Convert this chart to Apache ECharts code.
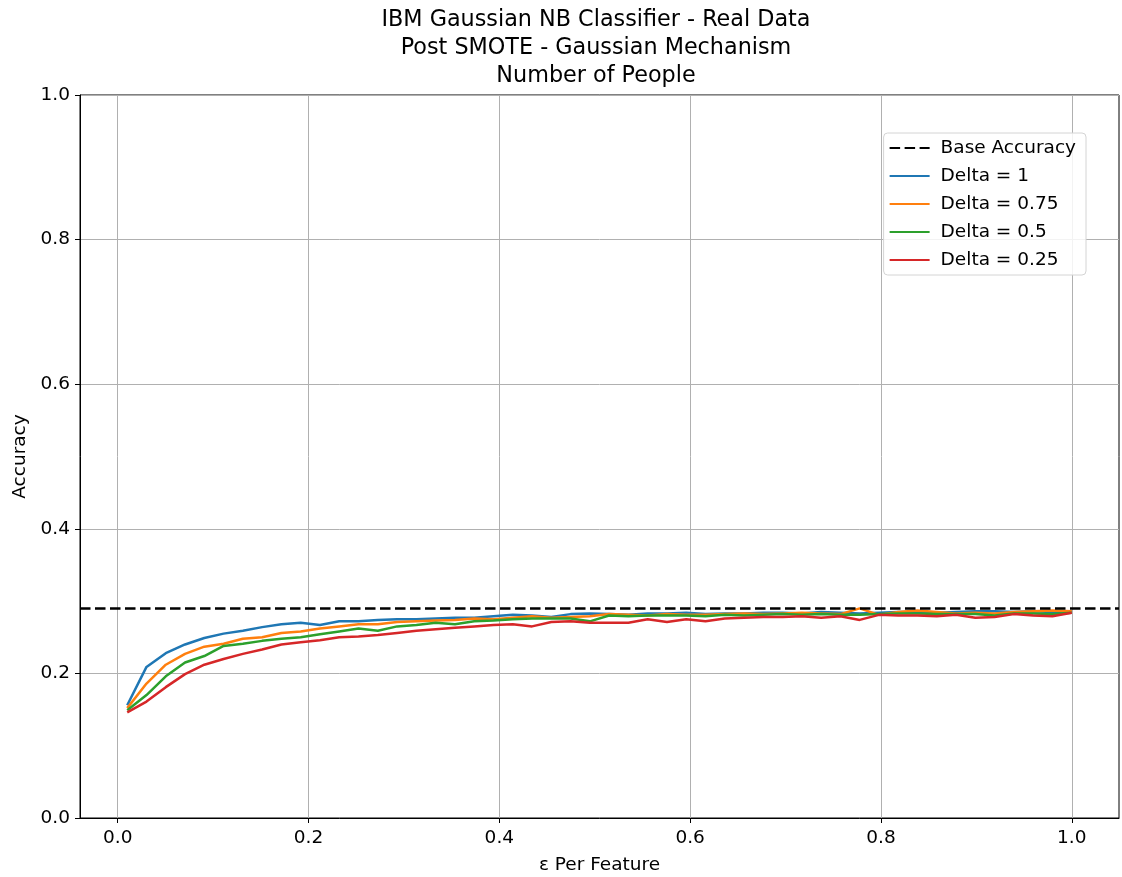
<!DOCTYPE html>
<html>
<head>
<meta charset="utf-8">
<script src="https://cdn.jsdelivr.net/npm/echarts@6/dist/echarts.min.js"></script>
<style>
  html, body { margin: 0; padding: 0; background: #fff; }
  #chart { width: 1122px; height: 877px; }
</style>
</head>
<body>
<div id="chart"></div>
<script>
// Epsilon per feature (50 evenly spaced steps from 0.01 to 1.0)
const epsilon = [
  0.0100, 0.0302, 0.0504, 0.0706, 0.0908, 0.1110, 0.1312, 0.1514, 0.1716, 0.1918,
  0.2120, 0.2322, 0.2524, 0.2727, 0.2929, 0.3131, 0.3333, 0.3535, 0.3737, 0.3939,
  0.4141, 0.4343, 0.4545, 0.4747, 0.4949, 0.5151, 0.5353, 0.5555, 0.5757, 0.5959,
  0.6161, 0.6363, 0.6565, 0.6767, 0.6969, 0.7171, 0.7373, 0.7575, 0.7777, 0.7979,
  0.8181, 0.8383, 0.8585, 0.8787, 0.8989, 0.9191, 0.9393, 0.9595, 0.9797, 1.0000
];

const baseAccuracy = 0.2865;

const delta1 = [
  0.156, 0.209, 0.228, 0.240, 0.249, 0.255, 0.259, 0.264, 0.268, 0.270,
  0.267, 0.272, 0.272, 0.274, 0.275, 0.275, 0.276, 0.277, 0.277, 0.279,
  0.281, 0.280, 0.278, 0.282, 0.283, 0.282, 0.281, 0.283, 0.283, 0.284,
  0.282, 0.283, 0.283, 0.284, 0.284, 0.283, 0.285, 0.284, 0.283, 0.284,
  0.285, 0.285, 0.284, 0.285, 0.286, 0.286, 0.285, 0.286, 0.285, 0.286
];

const delta075 = [
  0.152, 0.186, 0.212, 0.227, 0.237, 0.241, 0.248, 0.250, 0.256, 0.258,
  0.262, 0.265, 0.268, 0.268, 0.271, 0.272, 0.273, 0.274, 0.276, 0.275,
  0.277, 0.279, 0.277, 0.278, 0.279, 0.282, 0.281, 0.280, 0.282, 0.281,
  0.281, 0.282, 0.283, 0.282, 0.283, 0.284, 0.283, 0.282, 0.290, 0.281,
  0.285, 0.287, 0.285, 0.283, 0.284, 0.283, 0.285, 0.286, 0.287, 0.286
];

const delta05 = [
  0.149, 0.170, 0.196, 0.215, 0.224, 0.238, 0.241, 0.245, 0.248, 0.250,
  0.254, 0.258, 0.262, 0.259, 0.265, 0.267, 0.270, 0.268, 0.272, 0.273,
  0.275, 0.276, 0.276, 0.276, 0.272, 0.280, 0.279, 0.280, 0.280, 0.280,
  0.279, 0.281, 0.280, 0.281, 0.282, 0.281, 0.282, 0.281, 0.281, 0.282,
  0.283, 0.283, 0.282, 0.282, 0.282, 0.280, 0.283, 0.283, 0.282, 0.284
];

const delta025 = [
  0.146, 0.161, 0.181, 0.199, 0.212, 0.220, 0.227, 0.233, 0.240, 0.243,
  0.246, 0.250, 0.251, 0.253, 0.256, 0.259, 0.261, 0.263, 0.265, 0.267,
  0.268, 0.265, 0.271, 0.272, 0.270, 0.270, 0.270, 0.275, 0.271, 0.275,
  0.272, 0.276, 0.277, 0.278, 0.278, 0.279, 0.277, 0.279, 0.274, 0.281,
  0.280, 0.280, 0.279, 0.281, 0.277, 0.278, 0.282, 0.280, 0.279, 0.284
];

const xTicks = [0.0, 0.2, 0.4, 0.6, 0.8, 1.0];

const seriesNames = ['Delta = 1', 'Delta = 0.75', 'Delta = 0.5', 'Delta = 0.25'];
const seriesValues = [delta1, delta075, delta05, delta025];
const seriesColors = ['#1f77b4', '#ff7f0e', '#2ca02c', '#d62728'];

const FONT = 'DejaVu Sans';
const TICK_SIZE = 18.5;
const DASH = [10.5, 4.5];

const chart = echarts.init(document.getElementById('chart'), null, { renderer: 'canvas' });

const lineSeries = seriesNames.map((name, i) => ({
  name: name,
  type: 'line',
  symbol: 'none',
  data: epsilon.map((x, j) => [x, seriesValues[i][j]]),
  lineStyle: { color: seriesColors[i], width: 2.5 },
  itemStyle: { color: seriesColors[i] },
  z: 3 + i
}));

chart.setOption({
  animation: false,
  backgroundColor: '#fff',
  title: {
    text: 'IBM Gaussian NB Classifier - Real Data\nPost SMOTE - Gaussian Mechanism\nNumber of People',
    left: 591,
    top: 1,
    textAlign: 'center',
    textStyle: {
      fontFamily: FONT,
      fontWeight: 'normal',
      fontSize: 22.3,
      lineHeight: 28,
      color: '#000'
    }
  },
  legend: {
    orient: 'vertical',
    right: 36,
    top: 133,
    itemWidth: 40,
    itemHeight: 14,
    itemGap: 8,
    padding: [5, 10, 5, 5],
    backgroundColor: 'rgba(255,255,255,0.85)',
    borderColor: '#d4d4d4',
    borderWidth: 1,
    borderRadius: 4,
    itemStyle: { opacity: 0 },
    data: ['Base Accuracy'].concat(seriesNames),
    textStyle: {
      fontFamily: FONT,
      fontSize: TICK_SIZE,
      color: '#000',
      lineHeight: 20,
      padding: [0, 0, 0, 6]
    }
  },
  grid: {
    left: 80,
    right: 3,
    top: 95,
    bottom: 59,
    outerBoundsMode: 'none',
    containLabel: false,
    show: true,
    borderColor: '#000',
    borderWidth: 1,
    backgroundColor: 'transparent'
  },
  xAxis: {
    type: 'value',
    min: -0.0395,
    max: 1.0495,
    name: 'ε Per Feature',
    nameLocation: 'middle',
    nameGap: 38,
    nameTextStyle: { fontFamily: FONT, fontSize: TICK_SIZE, color: '#000' },
    axisLine: { show: true, onZero: false, lineStyle: { color: '#000', width: 1 } },
    axisTick: { show: true, length: 5, customValues: xTicks, lineStyle: { color: '#000' } },
    axisLabel: {
      customValues: xTicks,
      margin: 11,
      fontFamily: FONT,
      fontSize: TICK_SIZE,
      color: '#000',
      formatter: v => v.toFixed(1)
    },
    splitLine: { show: true, lineStyle: { color: '#b0b0b0', width: 1 } }
  },
  yAxis: {
    type: 'value',
    min: 0,
    max: 1,
    interval: 0.2,
    name: 'Accuracy',
    nameLocation: 'middle',
    nameGap: 50,
    nameTextStyle: { fontFamily: FONT, fontSize: TICK_SIZE, color: '#000' },
    axisLine: { show: true, onZero: false, lineStyle: { color: '#000', width: 1 } },
    axisTick: { show: true, length: 5, lineStyle: { color: '#000' } },
    axisLabel: {
      margin: 10,
      fontFamily: FONT,
      fontSize: TICK_SIZE,
      color: '#000',
      formatter: v => v.toFixed(1)
    },
    splitLine: { show: true, lineStyle: { color: '#b0b0b0', width: 1 } }
  },
  series: [
    {
      name: 'Base Accuracy',
      type: 'line',
      symbol: 'none',
      data: [],
      lineStyle: { color: '#000', width: 2.5, type: DASH },
      itemStyle: { color: '#000' },
      markLine: {
        silent: true,
        symbol: 'none',
        label: { show: false },
        lineStyle: { color: '#000', width: 2.5, type: DASH },
        data: [{ yAxis: baseAccuracy }]
      },
      z: 8
    }
  ].concat(lineSeries)
});
</script>
</body>
</html>
